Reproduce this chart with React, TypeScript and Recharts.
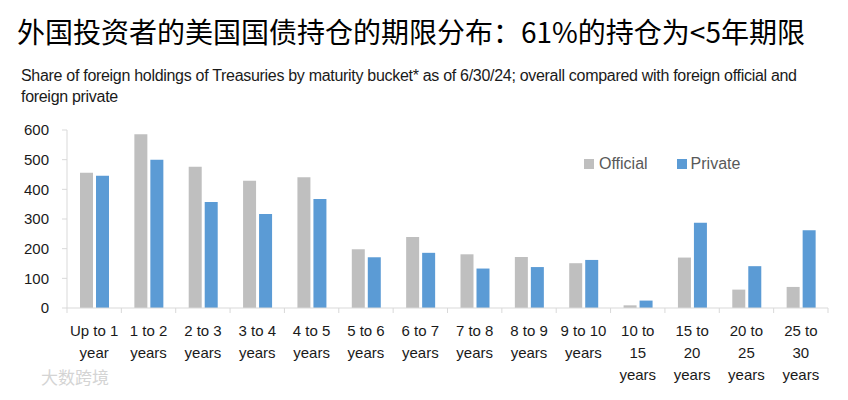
import { BarChart, Bar, XAxis, YAxis } from 'recharts';

const categories = [
  'Up to 1\nyear', '1 to 2\nyears', '2 to 3\nyears', '3 to 4\nyears', '4 to 5\nyears',
  '5 to 6\nyears', '6 to 7\nyears', '7 to 8\nyears', '8 to 9\nyears', '9 to 10\nyears',
  '10 to\n15\nyears', '15 to\n20\nyears', '20 to\n25\nyears', '25 to\n30\nyears',
];
const officialValues = [456, 586, 476, 429, 441, 198, 239, 181, 172, 151, 9, 170, 62, 71];
const privateValues = [446, 500, 357, 317, 367, 171, 186, 133, 138, 162, 25, 287, 141, 262];
const yTicks = [0, 100, 200, 300, 400, 500, 600];

const data = categories.map((name, i) => ({
  name,
  official: officialValues[i],
  private: privateValues[i],
}));

const CHART_W = 848;
const LEFT = 67;
const RIGHT = 20;
const STEP = (CHART_W - LEFT - RIGHT) / categories.length;
const FONT = '"Liberation Sans", Arial, sans-serif';

// category label split on \n, with a tick mark on the left edge of each band
const XTick = (props: any) => {
  const { x, y, payload, index } = props;
  const lines = String(payload.value).split('\n');
  return (
    <g>
      <line x1={x - STEP / 2} x2={x - STEP / 2} y1={y} y2={y + 5} stroke="#d9d9d9" />
      {index === categories.length - 1 && (
        <line x1={x + STEP / 2} x2={x + STEP / 2} y1={y} y2={y + 5} stroke="#d9d9d9" />
      )}
      <text x={x} y={y + 28} textAnchor="middle" fill="#1a1a1a" fontSize={15} fontFamily={FONT}>
        {lines.map((l, i) => (
          <tspan key={i} x={x} dy={i === 0 ? 0 : 22}>{l}</tspan>
        ))}
      </text>
    </g>
  );
};

export default function App() {
  return (
    <div style={{ position: 'absolute', left: 0, top: 0, width: 848, height: 400, background: '#fff' }}>
      <div style={{
        position: 'absolute', left: 17, top: 11, fontFamily: '"Noto Sans CJK SC", sans-serif',
        fontSize: 28, lineHeight: '40px', color: '#000', whiteSpace: 'nowrap',
      }}>
        外国投资者的美国国债持仓的期限分布：61%的持仓为&lt;5年期限
      </div>
      <div style={{
        position: 'absolute', left: 21, top: 65, width: 800, fontFamily: FONT,
        fontSize: 16, lineHeight: '21px', color: '#1a1a1a', letterSpacing: -0.3,
      }}>
        Share of foreign holdings of Treasuries by maturity bucket* as of 6/30/24; overall compared with foreign official and foreign private
      </div>
      <div style={{
        position: 'absolute', left: 41, top: 364, fontFamily: '"Noto Sans CJK SC", sans-serif',
        fontSize: 17, color: '#d4d4d4',
      }}>
        大数跨境
      </div>
      <div style={{
        position: 'absolute', left: 584, top: 153, display: 'flex', zIndex: 2,
        fontFamily: FONT, fontSize: 16, lineHeight: '22px', color: '#595959',
      }}>
        <div style={{ display: 'flex', alignItems: 'center', marginRight: 29 }}>
          <span style={{ width: 10, height: 10, background: '#bfbfbf', marginRight: 5 }} />
          Official
        </div>
        <div style={{ display: 'flex', alignItems: 'center' }}>
          <span style={{ width: 10, height: 10, background: '#5b9bd5', marginRight: 4 }} />
          Private
        </div>
      </div>
      <BarChart
        width={CHART_W}
        height={400}
        data={data}
        margin={{ top: 130, right: RIGHT, bottom: 0, left: 0 }}
        barGap={3}
        barSize={13}
      >
        <XAxis
          dataKey="name"
          height={92}
          interval={0}
          axisLine={{ stroke: '#d9d9d9' }}
          tickLine={false}
          tickSize={0}
          tickMargin={0}
          tick={<XTick />}
        />
        <YAxis
          width={LEFT}
          domain={[0, 600]}
          ticks={yTicks}
          axisLine={{ stroke: '#d9d9d9' }}
          tickLine={{ stroke: '#d9d9d9' }}
          tickSize={5}
          tickMargin={13}
          tick={{ fill: '#1a1a1a', fontSize: 15, fontFamily: FONT }}
        />
        <Bar dataKey="official" name="Official" fill="#bfbfbf" isAnimationActive={false} />
        <Bar dataKey="private" name="Private" fill="#5b9bd5" isAnimationActive={false} />
      </BarChart>
    </div>
  );
}
